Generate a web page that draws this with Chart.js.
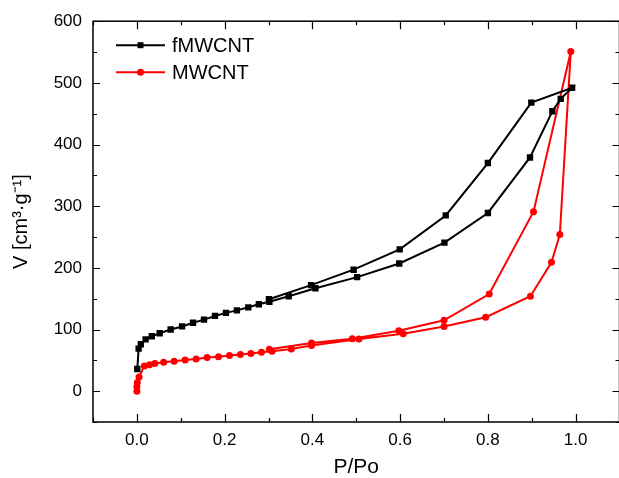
<!DOCTYPE html>
<html>
<head>
<meta charset="utf-8">
<script src="https://cdn.jsdelivr.net/npm/chart.js@4.4.1/dist/chart.umd.min.js"></script>
<style>
  html, body { margin: 0; padding: 0; background: #fff; overflow: hidden; }
  #wrap { width: 624px; height: 478px; }
</style>
</head>
<body>
<div id="wrap"><canvas id="chart" width="624" height="478"></canvas></div>
<script>
// series names
const seriesNames = ['fMWCNT', 'MWCNT'];

// fMWCNT: adsorption up to P/Po ~ 1, then desorption back down
const fmwcntP = [0.001, 0.004, 0.009, 0.02, 0.034, 0.052, 0.077, 0.103, 0.128, 0.153, 0.178, 0.203, 0.228, 0.254, 0.278, 0.302, 0.346, 0.407, 0.502, 0.598, 0.701, 0.80, 0.896, 0.947, 0.966, 0.992, 0.899, 0.80, 0.704, 0.599, 0.494, 0.397, 0.301];
const fmwcntV = [36, 69, 76, 84, 89, 94, 100, 105, 111, 116, 122, 127, 131, 136, 141, 145, 154, 167, 185, 207, 241, 289, 379, 454, 474, 492, 468, 370, 285, 230, 197, 172, 149];

// MWCNT: same order
const mwcntP = [0.0, 0.0, 0.001, 0.005, 0.017, 0.029, 0.041, 0.061, 0.085, 0.11, 0.135, 0.16, 0.186, 0.211, 0.236, 0.26, 0.284, 0.308, 0.352, 0.398, 0.506, 0.607, 0.70, 0.795, 0.897, 0.945, 0.964, 0.989, 0.904, 0.803, 0.70, 0.597, 0.491, 0.398, 0.302];
const mwcntV = [0, 7, 14, 23, 41, 43, 45, 47, 48.5, 50.7, 52, 54.5, 56, 58, 59.4, 61, 63, 64.7, 68.5, 74, 84.6, 93, 105, 120, 154, 209, 254, 551, 291, 157.5, 115, 98, 85, 78, 68];

// tick labels
const xTicks = [0.0, 0.2, 0.4, 0.6, 0.8, 1.0];
const yTicks = [0, 100, 200, 300, 400, 500, 600];

const fontName = '"Liberation Sans", Arial, sans-serif';

function toPoints(xs, ys) {
    return xs.map((x, i) => ({ x: x, y: ys[i] }));
}

// Origin style ticks: pointing inside, on all four sides
const insideTicks = {
    id: 'insideTicks',
    afterDraw(chart) {
        const ctx = chart.ctx;
        const a = chart.chartArea;
        const xs = chart.scales.x;
        const ys = chart.scales.y;
        ctx.save();
        ctx.strokeStyle = '#000';
        ctx.lineWidth = 1.5;
        ctx.strokeRect(a.left, a.top, a.right - a.left, a.bottom - a.top);
        ctx.lineWidth = 1.2;
        ctx.beginPath();
        for (let i = -1; i <= 11; i++) {
            const px = Math.round(xs.getPixelForValue(i / 10)) + 0.5;
            const len = (i % 2 === 0) ? 8 : 4;
            ctx.moveTo(px, a.bottom); ctx.lineTo(px, a.bottom - len);
            ctx.moveTo(px, a.top); ctx.lineTo(px, a.top + len);
        }
        for (let v = -50; v <= 600; v += 50) {
            const py = Math.round(ys.getPixelForValue(v)) + 0.5;
            const len = (v % 100 === 0) ? 7 : 4;
            ctx.moveTo(a.left, py); ctx.lineTo(a.left + len, py);
            ctx.moveTo(a.right, py); ctx.lineTo(a.right - len, py);
        }
        ctx.stroke();
        ctx.restore();
    }
};

// legend with line + marker, top left inside the plot
const lineLegend = {
    id: 'lineLegend',
    afterDatasetsDraw(chart) {
        const ctx = chart.ctx;
        const a = chart.chartArea;
        ctx.save();
        chart.data.datasets.forEach((ds, i) => {
            const y = a.top + 24 + i * 27;
            const x0 = a.left + 23;
            ctx.strokeStyle = ds.borderColor;
            ctx.lineWidth = 2;
            ctx.beginPath();
            ctx.moveTo(x0, y);
            ctx.lineTo(x0 + 49, y);
            ctx.stroke();
            ctx.fillStyle = ds.pointBackgroundColor;
            if (ds.pointStyle === 'rect') {
                ctx.fillRect(x0 + 21.5, y - 3, 6, 6);
            } else {
                ctx.beginPath();
                ctx.arc(x0 + 24.5, y, 3.5, 0, Math.PI * 2);
                ctx.fill();
            }
            ctx.fillStyle = '#000';
            ctx.font = '20px ' + fontName;
            ctx.textBaseline = 'middle';
            ctx.textAlign = 'left';
            ctx.fillText(ds.label, x0 + 56, y + 1);
        });
        ctx.restore();
    }
};

new Chart(document.getElementById('chart'), {
    type: 'scatter',
    data: {
        datasets: [{
            label: seriesNames[0],
            data: toPoints(fmwcntP, fmwcntV),
            showLine: true,
            borderColor: '#000000',
            backgroundColor: '#000000',
            pointBackgroundColor: '#000000',
            pointBorderWidth: 0,
            pointStyle: 'rect',
            pointRadius: 4.5,
            borderWidth: 2,
            tension: 0
        }, {
            label: seriesNames[1],
            data: toPoints(mwcntP, mwcntV),
            showLine: true,
            borderColor: '#ff0000',
            backgroundColor: '#ff0000',
            pointBackgroundColor: '#ff0000',
            pointBorderWidth: 0,
            pointStyle: 'circle',
            pointRadius: 3.5,
            borderWidth: 2,
            tension: 0
        }]
    },
    options: {
        responsive: false,
        animation: false,
        devicePixelRatio: 1,
        layout: { padding: { top: 20, right: 2, left: 0, bottom: 0 } },
        plugins: {
            legend: { display: false },
            tooltip: { enabled: false }
        },
        scales: {
            x: {
                type: 'linear',
                min: -0.1,
                max: 1.1,
                afterBuildTicks: scale => { scale.ticks = xTicks.map(v => ({ value: v })); },
                afterFit: scale => { scale.height = 56; },
                grid: { display: false, drawTicks: false },
                border: { display: false },
                ticks: {
                    color: '#000',
                    padding: 8,
                    maxRotation: 0,
                    font: { family: fontName, size: 17 },
                    callback: v => v.toFixed(1)
                },
                title: {
                    display: true,
                    text: 'P/Po',
                    color: '#000',
                    padding: { top: 0, bottom: 0 },
                    font: { family: fontName, size: 21, lineHeight: 1 }
                }
            },
            y: {
                type: 'linear',
                min: -50,
                max: 600,
                afterBuildTicks: scale => { scale.ticks = yTicks.map(v => ({ value: v })); },
                afterFit: scale => { scale.width = 93; },
                grid: { display: false, drawTicks: false },
                border: { display: false },
                ticks: {
                    color: '#000',
                    padding: 11,
                    font: { family: fontName, size: 17 }
                },
                title: {
                    display: true,
                    text: 'V [cm³·g⁻¹]',
                    color: '#000',
                    padding: { top: 9, bottom: 0 },
                    font: { family: fontName, size: 20 }
                }
            }
        }
    },
    plugins: [insideTicks, lineLegend]
});
</script>
</body>
</html>
